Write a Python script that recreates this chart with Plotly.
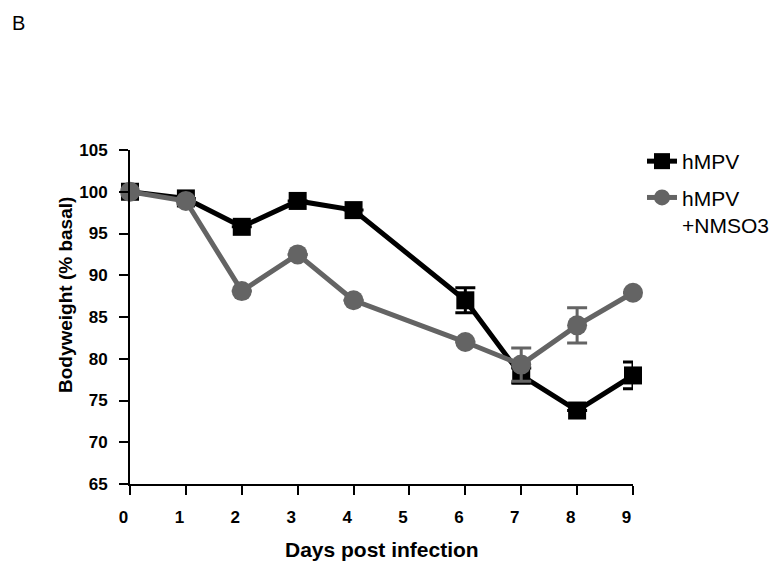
import plotly.graph_objects as go

days = [0, 1, 2, 3, 4, 6, 7, 8, 9]
hmpv = [100, 99.2, 95.8, 98.9, 97.8, 87.0, 78.0, 73.8, 78.0]
hmpv_err = [0, 0, 0, 0, 0, 1.5, 0.9, 0, 1.6]
nmso3 = [100, 98.9, 88.1, 92.5, 87.0, 82.0, 79.3, 84.0, 87.9]
nmso3_err = [0, 0, 0, 0, 0, 0, 2.0, 2.1, 0]
x_ticks = [0, 1, 2, 3, 4, 5, 6, 7, 8, 9]
y_ticks = [65, 70, 75, 80, 85, 90, 95, 100, 105]

BLACK = "#000000"
GRAY = "#646464"

# page has an 8px body margin; figure sized to fit the window
W, H = 773, 556
L, R, T, B = 122, 148, 142, 80
PW, PH = W - L - R, H - T - B

def px_x(fx):
    return (fx - L) / PW

def px_y(fy):
    return (T + PH - fy) / PH

FONT = "Liberation Sans, Arial, Helvetica, sans-serif"
PAD = "\u00a0\u00a0\u2009"

fig = go.Figure()
fig.add_trace(go.Scatter(
    x=days, y=hmpv, name="hMPV", mode="lines+markers", legendgroup="a",
    line=dict(color=BLACK, width=5),
    marker=dict(symbol="square", size=18, color=BLACK),
    error_y=dict(type="data", array=hmpv_err, color=BLACK, thickness=3, width=10),
    cliponaxis=False,
))
fig.add_trace(go.Scatter(
    x=days, y=nmso3, name="hMPV<br>+NMSO3", mode="lines+markers", legendgroup="b",
    line=dict(color=GRAY, width=5),
    marker=dict(symbol="circle", size=20, color=GRAY),
    error_y=dict(type="data", array=nmso3_err, color=GRAY, thickness=3, width=10),
    cliponaxis=False,
))

axis_font = dict(family=FONT, size=17, color="black")
fig.update_layout(
    width=W, height=H,
    paper_bgcolor="white", plot_bgcolor="white",
    margin=dict(l=L, r=R, t=T, b=B),
    font=dict(family=FONT, color="black"),
    xaxis=dict(
        range=[0, 9], tickvals=x_ticks, ticktext=[f"<b>{v}{PAD}</b>" for v in x_ticks],
        showline=True, linecolor="black", linewidth=2,
        ticks="outside", ticklen=9, tickwidth=2, tickcolor="black",
        showgrid=False, zeroline=False, tickfont=axis_font,
        ticklabelstandoff=8, automargin=False,
    ),
    yaxis=dict(
        range=[65, 105], tickvals=y_ticks, ticktext=[f"<b>{v}</b>" for v in y_ticks],
        showline=True, linecolor="black", linewidth=2,
        ticks="outside", ticklen=9, tickwidth=2, tickcolor="black",
        showgrid=False, zeroline=False, tickfont=axis_font,
        ticklabelstandoff=8, automargin=False,
    ),
    legend=dict(
        xref="container", yref="container",
        x=634 / W, y=1 - 133 / H, xanchor="left", yanchor="top",
        font=dict(size=21, color="black"), bgcolor="rgba(0,0,0,0)",
        tracegroupgap=6, valign="top",
    ),
    annotations=[
        dict(text="B", x=px_x(2), y=px_y(2), xref="paper", yref="paper",
             xanchor="left", yanchor="top", showarrow=False,
             font=dict(size=20, color="black")),
        dict(text="<b>Days post infection</b>", x=0.5, y=px_y(541),
             xref="paper", yref="paper", xanchor="center", yanchor="middle",
             showarrow=False, font=dict(size=21, color="black")),
        dict(text="<b>Bodyweight (% basal)</b>", x=px_x(57), y=px_y(287),
             xref="paper", yref="paper", xanchor="center", yanchor="middle",
             textangle=-90, showarrow=False, font=dict(size=19, color="black")),
    ],
)

fig.write_html("out.html")
